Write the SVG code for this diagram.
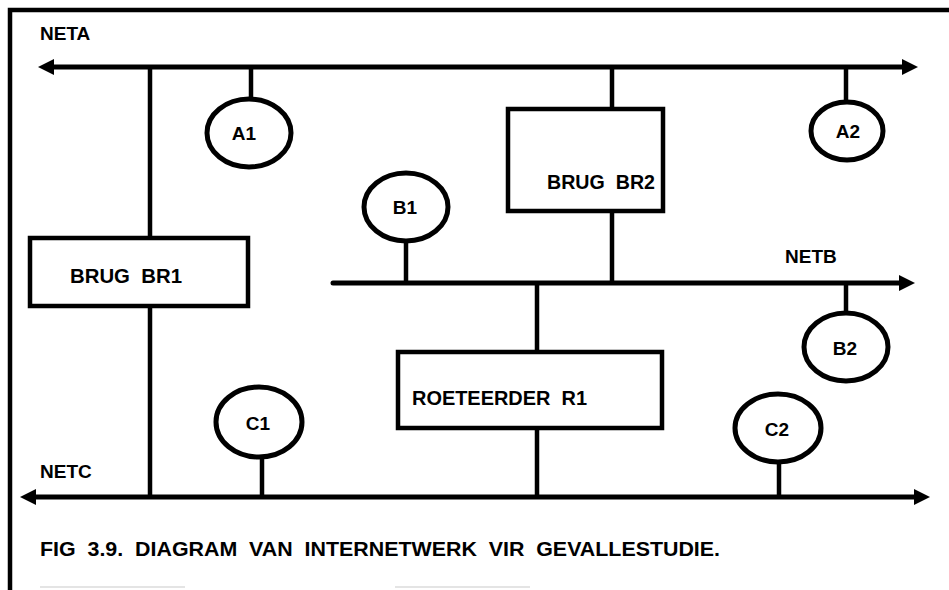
<svg xmlns="http://www.w3.org/2000/svg" width="949" height="590" viewBox="0 0 949 590">
<defs>
<marker id="arr" viewBox="0 0 16 16" refX="0" refY="8" markerWidth="16" markerHeight="16" markerUnits="userSpaceOnUse" orient="auto-start-reverse">
<path d="M0,0 L16,8 L0,16 z" fill="#000"/>
</marker>
<style>
.ln{stroke:#000;stroke-width:4.5;fill:none}
.bus{stroke:#000;stroke-width:5;fill:none}
.box{stroke:#000;stroke-width:4.5;fill:#fff}
.st{stroke:#000;stroke-width:5;fill:#fff}
.t{font-family:"Liberation Sans",Arial,sans-serif;font-weight:bold;fill:#000}
.lb{font-size:21px}
.nl{font-size:19px}
.net{font-size:19px}
</style>
</defs>
<rect width="949" height="590" fill="#fff"/>
<path class="ln" d="M10,590 V10 H949"/>
<g id="connectors">
<path class="ln" d="M150,67 V238 M150,306 V497"/>
<path class="ln" d="M251,67 V99"/>
<path class="ln" d="M846,67 V101"/>
<path class="ln" d="M612,67 V109 M612,211 V283"/>
<path class="ln" d="M406,242 V283"/>
<path class="ln" d="M846,283 V312"/>
<path class="ln" d="M537,283 V352 M537,428 V497"/>
<path class="ln" d="M262,458 V497"/>
<path class="ln" d="M779,462 V497"/>
</g>
<g id="NETA">
<path class="bus" d="M54,67 H902" marker-start="url(#arr)" marker-end="url(#arr)"/>
<text class="t net" x="40" y="40">NETA</text>
</g>
<g id="NETB">
<path class="bus" d="M333,283 H899" stroke-linecap="round" marker-end="url(#arr)"/>
<text class="t net" x="785" y="263">NETB</text>
</g>
<g id="NETC">
<path class="bus" d="M36,497 H914" marker-start="url(#arr)" marker-end="url(#arr)"/>
<text class="t net" x="40" y="478">NETC</text>
</g>
<g id="A1"><ellipse class="st" cx="249" cy="133" rx="42" ry="34"/><text class="t nl" x="244" y="140" text-anchor="middle">A1</text></g>
<g id="A2"><ellipse class="st" cx="847" cy="131" rx="36" ry="29"/><text class="t nl" x="848" y="138" text-anchor="middle">A2</text></g>
<g id="B1"><ellipse class="st" cx="406" cy="207" rx="42" ry="34"/><text class="t nl" x="405" y="214" text-anchor="middle">B1</text></g>
<g id="B2"><ellipse class="st" cx="846" cy="347" rx="42" ry="34"/><text class="t nl" x="845" y="355" text-anchor="middle">B2</text></g>
<g id="C1"><ellipse class="st" cx="259" cy="422" rx="43" ry="35"/><text class="t nl" x="258" y="430" text-anchor="middle">C1</text></g>
<g id="C2"><ellipse class="st" cx="778" cy="428" rx="43" ry="34"/><text class="t nl" x="777" y="436" text-anchor="middle">C2</text></g>
<g id="BR1"><rect class="box" x="30" y="238" width="218" height="68"/><text class="t lb" x="70" y="283" textLength="112" lengthAdjust="spacingAndGlyphs" xml:space="preserve">BRUG  BR1</text></g>
<g id="BR2"><rect class="box" x="508" y="109" width="155" height="102"/><text class="t lb" x="547" y="189" textLength="108" lengthAdjust="spacingAndGlyphs" xml:space="preserve">BRUG  BR2</text></g>
<g id="R1"><rect class="box" x="398" y="352" width="264" height="76"/><text class="t lb" x="412" y="405" textLength="175" lengthAdjust="spacingAndGlyphs" xml:space="preserve">ROETEERDER  R1</text></g>
<text class="t lb" x="40" y="556" textLength="680" lengthAdjust="spacingAndGlyphs" xml:space="preserve">FIG  3.9.  DIAGRAM  VAN  INTERNETWERK  VIR  GEVALLESTUDIE.</text>
<path d="M40,587 H185 M395,587 H530" stroke="#e4e4e4" stroke-width="2"/>
</svg>
